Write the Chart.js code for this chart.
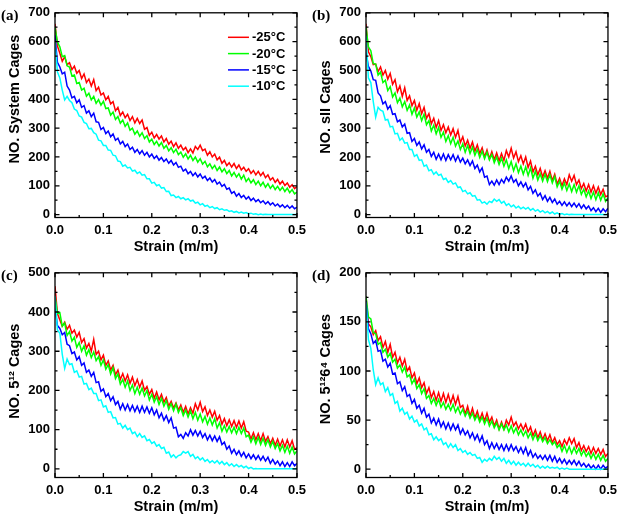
<!DOCTYPE html>
<html>
<head>
<meta charset="utf-8">
<script src="https://cdn.jsdelivr.net/npm/chart.js@4.4.1/dist/chart.umd.min.js"></script>
<style>
  html, body { margin: 0; padding: 0; background: #ffffff; }
  #wrap { position: relative; width: 622px; height: 522px; background: #ffffff; overflow: hidden; }
  canvas { position: absolute; }
</style>
</head>
<body>
<div id="wrap">
  <canvas id="ca" width="311" height="260" style="left:0;top:0"></canvas>
  <canvas id="cb" width="311" height="260" style="left:311px;top:0"></canvas>
  <canvas id="cc" width="311" height="262" style="left:0;top:260px"></canvas>
  <canvas id="cd" width="311" height="262" style="left:311px;top:260px"></canvas>
</div>
<script>
// ---------------- DATA ----------------
const seriesLabels = ['-25°C', '-20°C', '-15°C', '-10°C'];
const seriesColors = ['#ff0000', '#00ff00', '#0000ff', '#00ffff'];

const strain = [
  0.000,0.005,0.010,0.015,0.020,0.025,0.030,0.035,0.040,0.045,
  0.050,0.055,0.060,0.065,0.070,0.075,0.080,0.085,0.090,0.095,
  0.100,0.105,0.110,0.115,0.120,0.125,0.130,0.135,0.140,0.145,
  0.150,0.155,0.160,0.165,0.170,0.175,0.180,0.185,0.190,0.195,
  0.200,0.205,0.210,0.215,0.220,0.225,0.230,0.235,0.240,0.245,
  0.250,0.255,0.260,0.265,0.270,0.275,0.280,0.285,0.290,0.295,
  0.300,0.305,0.310,0.315,0.320,0.325,0.330,0.335,0.340,0.345,
  0.350,0.355,0.360,0.365,0.370,0.375,0.380,0.385,0.390,0.395,
  0.400,0.405,0.410,0.415,0.420,0.425,0.430,0.435,0.440,0.445,
  0.450,0.455,0.460,0.465,0.470,0.475,0.480,0.485,0.490,0.495,
  0.500
];

const xTicks = [0.0, 0.1, 0.2, 0.3, 0.4, 0.5];
const xMinor = [0.05, 0.15, 0.25, 0.35, 0.45];

// (a) System cages
const systemM25 = [
  662,585,560,532,548,520,527,503,515,490,
  500,472,488,458,470,446,468,430,442,415,
  422,398,410,384,392,360,372,344,356,336,
  348,326,340,318,334,316,328,296,302,275,
  286,266,278,262,273,252,264,244,255,236,
  249,230,241,224,233,215,228,214,236,226,
  241,222,227,206,218,200,210,190,199,178,
  188,170,180,165,177,160,172,155,164,150,
  159,143,153,138,150,135,146,128,138,120,
  128,112,122,106,116,101,110,95,104,90,
  97];
const systemM20 = [
  650,598,582,548,552,516,512,481,484,455,
  458,432,438,411,421,398,410,386,399,380,
  393,368,370,345,356,330,340,317,328,306,
  318,293,300,279,290,272,284,264,274,252,
  262,243,254,238,250,230,240,221,232,215,
  227,208,217,199,211,193,206,188,200,182,
  194,175,185,166,176,160,171,153,165,148,
  159,142,153,134,146,130,142,123,137,115,
  126,110,121,104,116,100,112,95,107,91,
  102,87,98,84,95,80,92,76,87,72,
  78];
const systemM15 = [
  622,528,512,488,494,446,432,405,410,388,
  398,372,378,352,360,340,352,322,320,295,
  302,281,290,270,280,258,265,245,254,236,
  245,226,234,216,226,211,222,206,216,200,
  210,195,204,189,198,184,193,178,188,172,
  181,164,168,151,158,142,150,135,145,131,
  141,126,133,118,127,113,122,106,113,98,
  105,88,92,74,80,64,73,59,67,54,
  62,49,57,45,52,41,48,37,45,34,
  41,30,37,27,34,24,32,22,30,20,
  26];
const systemM10 = [
  600,495,474,432,398,410,396,388,366,361,
  342,338,320,316,298,299,284,279,258,256,
  240,240,224,223,206,204,186,184,168,172,
  162,164,151,154,143,148,137,139,124,124,
  109,112,100,104,92,94,80,81,66,68,
  59,63,55,59,51,55,47,50,40,43,
  34,38,29,32,24,28,21,24,17,20,
  15,17,11,13,8,11,6,9,5,7,
  3,5,1,3,0,2,0,1,0,0,
  0,0,0,0,0,0,0,0,0,0,
  0];

// (b) sII cages
const sIIM25 = [
  662,565,548,520,522,496,512,484,500,470,
  490,452,468,426,446,410,440,396,412,378,
  396,362,385,350,372,334,350,315,334,302,
  326,292,312,284,304,276,298,268,292,250,
  270,238,258,230,252,220,242,212,232,200,
  224,194,218,190,214,186,212,188,222,200,
  230,196,218,184,204,176,200,164,186,148,
  168,138,160,130,152,126,150,118,140,106,
  126,100,124,104,138,116,136,104,120,90,
  108,82,104,78,100,74,96,70,88,62,
  66];
const sIIM20 = [
  650,582,568,524,522,484,494,458,466,430,
  444,408,422,388,404,374,392,362,380,348,
  370,338,356,326,348,312,326,290,310,280,
  302,268,286,254,274,246,268,238,256,226,
  246,216,240,212,234,206,226,198,220,194,
  216,190,208,180,200,174,196,168,190,160,
  184,152,176,146,168,140,166,136,162,126,
  150,120,142,116,140,114,138,110,132,96,
  116,88,110,84,106,80,104,78,100,70,
  88,62,82,56,78,52,76,50,72,46,
  58];
const sIIM15 = [
  562,514,498,468,466,422,412,384,392,366,
  378,348,350,322,328,304,314,282,284,254,
  264,240,252,228,242,216,226,202,216,192,
  210,190,210,188,208,190,208,186,204,182,
  196,176,190,170,186,160,172,148,162,130,
  134,104,116,102,120,104,122,110,130,116,
  134,112,122,100,114,96,110,86,98,74,
  86,64,74,52,66,46,60,42,54,36,
  46,32,44,30,42,28,40,26,38,22,
  34,20,30,14,24,10,22,8,20,10,
  22];
const sIIM10 = [
  620,474,458,392,338,372,362,358,328,330,
  304,306,280,282,258,266,248,250,226,226,
  202,208,188,190,168,172,152,156,140,148,
  136,140,122,126,112,118,106,110,94,96,
  80,84,72,76,64,66,50,52,40,44,
  36,46,42,54,46,52,40,46,32,38,
  27,33,23,29,20,26,19,25,15,21,
  12,17,9,14,6,11,4,9,2,6,
  1,4,0,2,0,1,0,0,0,0,
  0,0,0,0,0,0,0,0,0,0,
  0];

// (c) 5^12 cages
const c512M25 = [
  466,396,380,364,374,356,366,346,354,336,
  348,322,332,308,320,300,330,292,300,278,
  290,264,275,252,264,240,252,228,243,224,
  240,218,234,212,228,208,224,200,210,190,
  202,180,196,176,190,170,182,160,172,155,
  168,150,163,144,159,140,156,142,166,150,
  170,146,158,136,150,132,147,124,136,114,
  128,110,125,108,123,106,122,104,120,96,
  94,76,92,74,90,72,90,70,82,64,
  78,60,76,58,74,56,74,56,72,50,
  54];
const c512M20 = [
  440,396,398,364,372,340,350,326,336,310,
  322,300,314,290,304,284,298,276,286,264,
  278,254,266,242,258,230,242,216,228,208,
  224,200,214,192,208,190,206,186,200,176,
  190,170,184,164,180,160,174,152,166,148,
  165,144,156,136,150,132,148,128,144,124,
  140,120,134,114,130,112,128,104,118,96,
  110,94,108,92,106,90,106,90,104,82,
  86,68,82,64,80,62,78,60,74,56,
  70,52,64,46,60,42,58,40,56,38,
  46];
const c512M15 = [
  412,366,358,342,348,318,314,294,298,278,
  286,264,270,246,252,236,246,220,222,198,
  204,184,192,174,184,164,172,152,166,150,
  164,148,162,146,160,144,160,144,158,142,
  156,138,150,130,142,124,136,118,130,104,
  106,82,88,78,92,84,100,86,98,84,
  96,80,90,74,86,72,84,70,82,62,
  68,50,58,40,50,36,46,32,42,28,
  38,26,36,24,34,22,32,20,30,14,
  24,12,20,8,18,6,16,6,18,8,
  14];
const c512M10 = [
  440,354,346,292,256,280,266,268,246,250,
  234,236,216,218,202,206,192,192,174,176,
  158,161,144,146,130,131,114,116,104,111,
  100,104,90,94,82,90,80,84,72,75,
  65,69,58,62,52,55,40,43,30,36,
  28,34,36,44,40,44,32,37,26,31,
  23,28,19,24,16,21,15,21,13,19,
  11,16,8,13,6,11,5,9,3,7,
  1,4,0,1,0,0,0,0,0,0,
  0,0,0,0,0,0,0,0,0,0,
  0];

// (d) 5^12 6^4 cages
const c51264M25 = [
  176,148,145,137,141,131,135,124,130,119,
  127,114,119,108,114,105,112,100,104,93,
  98,87,93,83,88,77,83,73,79,70,
  78,69,77,68,76,67,75,66,74,63,
  65,56,64,54,62,52,59,50,57,49,
  57,48,53,44,50,41,48,41,50,45,
  53,44,48,41,46,40,46,38,43,34,
  40,32,38,30,36,29,35,27,32,25,
  29,23,30,25,32,26,31,22,27,19,
  24,18,23,16,22,16,21,15,20,13,
  16];
const c51264M20 = [
  176,155,153,139,138,127,129,119,122,114,
  118,109,112,103,106,99,104,94,96,87,
  92,82,86,77,82,72,75,67,72,65,
  71,63,68,61,66,60,66,58,63,56,
  61,54,59,52,57,50,55,48,53,46,
  52,44,49,42,47,40,46,40,45,38,
  44,37,42,35,40,34,39,32,37,30,
  36,29,34,28,32,26,30,25,28,22,
  25,18,24,17,23,16,22,16,21,14,
  19,13,17,11,16,10,15,9,14,8,
  11];
const c51264M15 = [
  171,143,138,128,131,120,121,110,112,104,
  108,97,98,87,89,80,84,74,76,67,
  71,62,65,57,62,53,56,47,52,45,
  51,43,48,41,47,40,46,40,45,36,
  41,35,39,32,37,30,35,28,34,25,
  29,21,27,21,26,20,25,19,25,19,
  25,19,23,17,22,16,22,14,19,12,
  16,11,14,10,14,9,14,8,13,7,
  11,6,10,5,9,5,9,4,8,3,
  6,2,5,1,4,0,4,0,4,1,
  3];
const c51264M10 = [
  170,132,123,101,86,93,86,88,79,83,
  75,77,67,69,59,62,56,58,51,54,
  48,50,44,46,40,42,35,36,30,33,
  29,31,25,27,22,26,22,25,19,21,
  17,19,15,17,14,15,11,12,7,10,
  8,11,9,13,10,12,8,11,6,9,
  5,8,4,7,4,6,3,6,3,5,
  2,4,1,3,1,3,1,2,1,2,
  0,1,0,1,0,0,0,0,0,0,
  0,0,0,0,0,0,0,0,0,0,
  0];

const yTicksAB = [0, 100, 200, 300, 400, 500, 600, 700];
const yMinorAB = [50, 150, 250, 350, 450, 550, 650];
const yTicksC = [0, 100, 200, 300, 400, 500];
const yMinorC = [50, 150, 250, 350, 450];
const yTicksD = [0, 50, 100, 150, 200];
const yMinorD = [25, 75, 125, 175];

// ---------------- RENDERING ----------------
const FONT = "'Liberation Sans', Arial, sans-serif";

const framePlugin = {
  id: 'frame',
  afterDatasetsDraw(chart, args, opts) {
    const {ctx, chartArea: a, scales: {x, y}} = chart;
    ctx.save();
    ctx.strokeStyle = '#000';
    ctx.lineWidth = 1.3;
    ctx.strokeRect(a.left, a.top, a.right - a.left, a.bottom - a.top);
    const tick = (list, len) => {
      ctx.beginPath();
      list.forEach(v => {
        const px = x.getPixelForValue(v);
        ctx.moveTo(px, a.bottom); ctx.lineTo(px, a.bottom - len);
        ctx.moveTo(px, a.top); ctx.lineTo(px, a.top + len);
      });
      ctx.stroke();
    };
    const ytick = (list, len) => {
      ctx.beginPath();
      list.forEach(v => {
        const py = y.getPixelForValue(v);
        ctx.moveTo(a.left, py); ctx.lineTo(a.left + len, py);
        ctx.moveTo(a.right, py); ctx.lineTo(a.right - len, py);
      });
      ctx.stroke();
    };
    tick(opts.xMajor, 4.5); tick(opts.xMinor, 2.5);
    ytick(opts.yMajor, 4.5); ytick(opts.yMinor, 2.5);
    // panel label
    ctx.fillStyle = '#000';
    ctx.font = "bold 15px 'Liberation Serif', 'Times New Roman', serif";
    ctx.textAlign = 'left';
    ctx.textBaseline = 'middle';
    ctx.fillText(opts.panel, 1, a.top + 3.5);
    // legend
    if (opts.legend) {
      ctx.font = 'bold 13px ' + FONT;
      ctx.lineWidth = 1.5;
      chart.data.datasets.forEach((ds, i) => {
        const ly = a.top + 24.5 + i * 16.3;
        ctx.strokeStyle = ds.borderColor;
        ctx.beginPath();
        ctx.moveTo(a.right - 69, ly); ctx.lineTo(a.right - 48, ly);
        ctx.stroke();
        ctx.fillText(ds.label, a.right - 45, ly + 0.5);
      });
    }
    ctx.restore();
  }
};

function makeChart(id, cfg) {
  const datasets = cfg.series.map((arr, i) => ({
    label: seriesLabels[i],
    data: strain.map((sx, k) => ({x: sx, y: arr[k]})),
    borderColor: seriesColors[i],
    backgroundColor: seriesColors[i],
    borderWidth: 1.5,
    pointRadius: 0,
    tension: 0,
    fill: false,
    order: 4 - i
  }));
  return new Chart(document.getElementById(id), {
    type: 'line',
    data: {datasets},
    plugins: [framePlugin],
    options: {
      responsive: false,
      animation: false,
      devicePixelRatio: 1,
      layout: {padding: {left: 0, right: cfg.padRight, top: cfg.padTop, bottom: 0}},
      plugins: {
        legend: {display: false},
        tooltip: {enabled: false},
        frame: {
          xMajor: xTicks, xMinor: xMinor,
          yMajor: cfg.yTicks, yMinor: cfg.yMinor,
          panel: cfg.panel, legend: cfg.legend
        }
      },
      scales: {
        x: {
          type: 'linear', min: 0, max: 0.5,
          afterBuildTicks: s => { s.ticks = xTicks.map(v => ({value: v})); },
          afterFit: s => { s.height = cfg.xHeight; },
          grid: {display: false, drawTicks: false},
          border: {display: false},
          ticks: {
            color: '#000', padding: 5, maxRotation: 0, autoSkip: false,
            font: {family: FONT, size: 13, weight: 'bold'},
            callback: v => Number(v).toFixed(1)
          },
          title: {
            display: true, text: 'Strain (m/m)', color: '#000',
            font: {family: FONT, size: 14.5, weight: 'bold'},
            padding: {top: 0, bottom: cfg.xTitlePad}
          }
        },
        y: {
          type: 'linear', min: cfg.yMin, max: cfg.yMax,
          afterBuildTicks: s => { s.ticks = cfg.yTicks.map(v => ({value: v})); },
          afterFit: s => { s.width = 55; },
          grid: {display: false, drawTicks: false},
          border: {display: false},
          ticks: {
            color: '#000', padding: 5, autoSkip: false,
            font: {family: FONT, size: 13, weight: 'bold'},
            callback: v => String(v)
          },
          title: {
            display: true, text: cfg.yTitle, color: '#000',
            font: {family: FONT, size: 14.5, weight: 'bold'},
            padding: {top: 6, bottom: 0}
          }
        }
      }
    }
  });
}

makeChart('ca', {
  series: [systemM25, systemM20, systemM15, systemM10],
  yMin: -10, yMax: 700, yTicks: yTicksAB, yMinor: yMinorAB,
  yTitle: '        NO. System Cages', panel: '(a)', legend: true,
  padTop: 9.5, padRight: 10, xHeight: 42.5, xTitlePad: 4.3
});
makeChart('cb', {
  series: [sIIM25, sIIM20, sIIM15, sIIM10],
  yMin: -10, yMax: 700, yTicks: yTicksAB, yMinor: yMinorAB,
  yTitle: '    NO. sII Cages', panel: '(b)', legend: false,
  padTop: 10, padRight: 11, xHeight: 42.5, xTitlePad: 4.3
});
makeChart('cc', {
  series: [c512M25, c512M20, c512M15, c512M10],
  yMin: -22, yMax: 500, yTicks: yTicksC, yMinor: yMinorC,
  yTitle: '  NO. 5¹² Cages', panel: '(c)', legend: false,
  padTop: 8.5, padRight: 10, xHeight: 44.5, xTitlePad: 6.3
});
makeChart('cd', {
  series: [c51264M25, c51264M20, c51264M15, c51264M10],
  yMin: -8.5, yMax: 200, yTicks: yTicksD, yMinor: yMinorD,
  yTitle: '   NO. 5¹²6⁴ Cages', panel: '(d)', legend: false,
  padTop: 8.5, padRight: 11, xHeight: 44.5, xTitlePad: 6.3
});
</script>
</body>
</html>
